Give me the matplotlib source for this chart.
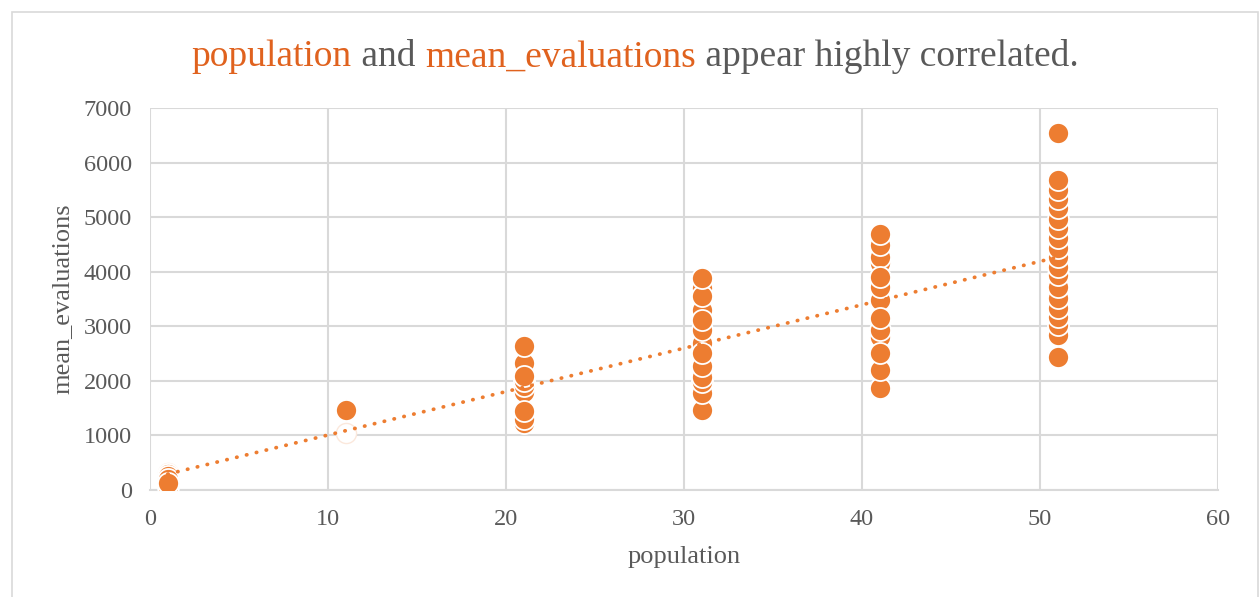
import matplotlib
matplotlib.use("Agg")
import matplotlib.pyplot as plt
import numpy as np
from matplotlib.patches import Rectangle

plt.rcParams["font.family"] = ["Liberation Serif", "DejaVu Serif"]

ORANGE = "#ED7D31"
TITLE_ORANGE = "#E0621E"
GRAY = "#595959"
GRID = "#D9D9D9"

# population -> mean_evaluations per run (in plotting order)
pop_1 = [300, 250, 50, 200, 130]
pop_11 = [1470]
pop_21 = [1230, 1300, 1800, 1900, 2000, 2150, 2250, 2320, 1450, 2080, 2640]
pop_31 = [1460, 1780, 1980, 2070, 2270, 2700, 2930, 3300, 3700, 2510, 3110, 3550, 3880]
pop_41 = [1870, 2200, 2800, 2930, 3480, 3720, 4160, 4270, 4490, 2510, 3150, 3900, 4690]
pop_51 = [2440, 2840, 3020, 3170, 3340, 3520, 3720, 3940, 4090, 4270, 4430,
          4620, 4800, 4970, 5170, 5330, 5500, 5680, 6540]

# faint, nearly hidden runs
faint_pop = [11, 1, 1]
faint_eval = [1050, 260, 310]

groups = {1: pop_1, 11: pop_11, 21: pop_21, 31: pop_31, 41: pop_41, 51: pop_51}

x = np.concatenate([[k] * len(v) for k, v in groups.items()]).astype(float)
y = np.concatenate([v for v in groups.values()]).astype(float)

fig = plt.figure(figsize=(12.6, 5.97), dpi=100)
fig.patches.append(Rectangle((12 / 1260, -0.01), 1246 / 1260, 1 - 12 / 597 + 0.01,
                             transform=fig.transFigure, fill=False,
                             edgecolor=GRID, linewidth=1.2))
ax = fig.add_axes([150 / 1260, 1 - 490 / 597, 1068 / 1260, 382 / 597])

ax.scatter(faint_pop, faint_eval, s=210, facecolor="white", edgecolors="#FBE8DC",
           linewidths=1.0, zorder=2)
ax.scatter(x, y, s=230, color=ORANGE, edgecolors="white", linewidths=1.3, zorder=3)

# linear trendline across the data range
slope, intercept = np.polyfit(x, y, 1)
xt = np.array([x.min(), x.max()])
ax.plot(xt, slope * xt + intercept, color=ORANGE, linestyle=(0, (0.1, 2.6)),
        linewidth=2.7, dash_capstyle="round", zorder=4)

ax.set_xlim(0, 60)
ax.set_ylim(0, 7000)
ax.set_xticks(range(0, 61, 10))
ax.set_yticks(range(0, 7001, 1000))
ax.grid(True, color=GRID, linewidth=1.5)
ax.set_axisbelow(True)
for side in ("top", "right", "left"):
    ax.spines[side].set_visible(False)
ax.spines["bottom"].set_color(GRID)
ax.spines["bottom"].set_linewidth(1.5)
ax.tick_params(length=0, labelsize=17.5, labelcolor=GRAY)
ax.tick_params(axis="x", pad=14)
ax.tick_params(axis="y", pad=13)

fig.text(684 / 1260, 1 - 557 / 597, "population", fontsize=19, color=GRAY,
         ha="center", va="center")
fig.text(62 / 1260, 1 - 299 / 597, "mean_evaluations", fontsize=19, color=GRAY,
         ha="center", va="center", rotation=90)

# title with the two variable names highlighted
parts = [("population", TITLE_ORANGE), (" and ", GRAY), ("mean_evaluations", TITLE_ORANGE),
         (" appear highly correlated.", GRAY)]
renderer = fig.canvas.get_renderer()
texts = []
for s, c in parts:
    t = fig.text(0, 1 - 57 / 597, s, color=c, fontsize=27, va="center", ha="left")
    texts.append(t)
widths = [t.get_window_extent(renderer).width for t in texts]
total = sum(widths)
xpos = (635 - total / 2) / 1260
for t, w in zip(texts, widths):
    t.set_x(xpos)
    xpos += w / 1260

fig.savefig("out.png", dpi=100)
